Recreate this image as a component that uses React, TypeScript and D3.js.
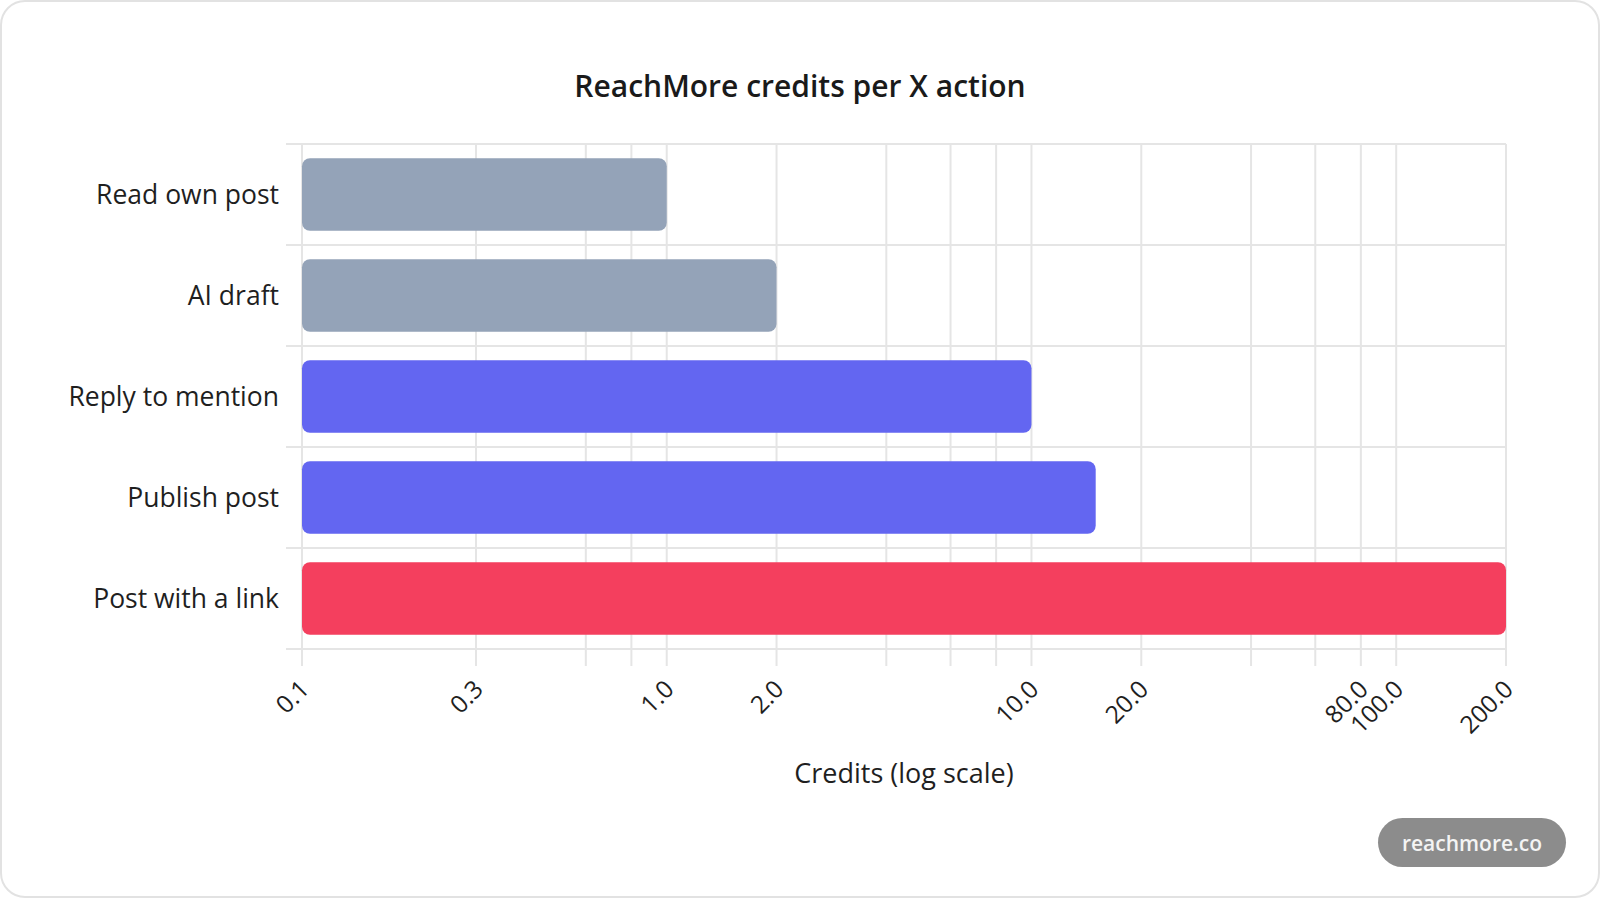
import React, { useEffect, useRef } from "react";
import * as d3 from "d3";

const categories = [
  "Read own post",
  "AI draft",
  "Reply to mention",
  "Publish post",
  "Post with a link",
];
const credits = [1, 2, 10, 15, 200];
const barColors = ["#94a3b8", "#94a3b8", "#6366f1", "#6366f1", "#f43f5e"];
const gridTicks = [0.1, 0.3, 0.6, 0.8, 1, 2, 4, 6, 8, 10, 20, 40, 60, 80, 100, 200];
const labelTicks = [0.1, 0.3, 1, 2, 10, 20, 80, 100, 200];

const W = 1600;
const H = 898;
const FONT = "'Open Sans', 'Noto Sans', sans-serif";

export default function App() {
  const svgRef = useRef<SVGSVGElement>(null);

  useEffect(() => {
    document.body.style.margin = "0";
    if (!svgRef.current) return;
    const svg = d3.select(svgRef.current);
    svg.selectAll("*").remove();

    const left = 302;
    const right = 1506;
    const top = 144;
    const bottom = 649;

    // card
    svg
      .append("rect")
      .attr("x", 1)
      .attr("y", 1)
      .attr("width", W - 2)
      .attr("height", H - 2)
      .attr("rx", 24)
      .attr("fill", "#fff")
      .attr("stroke", "#e2e2e2")
      .attr("stroke-width", 2);

    const x = d3.scaleLog().domain([0.1, 200]).range([left, right]);
    const y = d3
      .scaleBand<string>()
      .domain(categories)
      .range([top, bottom])
      .paddingInner(0)
      .paddingOuter(0);

    const grid = svg.append("g").attr("stroke", "#e5e5e5").attr("stroke-width", 2);

    // vertical grid + ticks
    grid
      .selectAll("line.v")
      .data(gridTicks)
      .enter()
      .append("line")
      .attr("x1", (d) => x(d))
      .attr("x2", (d) => x(d))
      .attr("y1", top)
      .attr("y2", bottom + 17);

    // horizontal grid at band edges
    const edges = categories.map((c) => y(c)!).concat([bottom]);
    grid
      .selectAll("line.h")
      .data(edges)
      .enter()
      .append("line")
      .attr("x1", left - 16)
      .attr("x2", right)
      .attr("y1", (d) => d)
      .attr("y2", (d) => d);

    // bars
    const barH = y.bandwidth() * 0.72;
    svg
      .append("g")
      .selectAll("rect")
      .data(credits)
      .enter()
      .append("rect")
      .attr("x", x(0.1))
      .attr("y", (d, i) => y(categories[i])! + (y.bandwidth() - barH) / 2)
      .attr("width", (d) => x(d) - x(0.1))
      .attr("height", barH)
      .attr("rx", 8)
      .attr("fill", (d, i) => barColors[i]);

    // y labels
    svg
      .append("g")
      .selectAll("text")
      .data(categories)
      .enter()
      .append("text")
      .attr("x", 279)
      .attr("y", (d) => y(d)! + y.bandwidth() / 2)
      .attr("dy", "0.35em")
      .attr("text-anchor", "end")
      .style("font-family", FONT)
      .style("font-size", "26.5px")
      .style("fill", "#1f1f1f")
      .text((d) => d);

    // x tick labels, rotated
    svg
      .append("g")
      .selectAll("text")
      .data(labelTicks)
      .enter()
      .append("text")
      .attr("transform", (d) => `translate(${x(d) + 2},${bottom + 35}) rotate(-45)`)
      .attr("text-anchor", "end")
      .attr("dominant-baseline", "central")
      .style("font-family", FONT)
      .style("font-size", "24.5px")
      .style("fill", "#1f1f1f")
      .text((d) => d.toFixed(1));

    // axis title
    svg
      .append("text")
      .attr("x", (left + right) / 2)
      .attr("y", 783)
      .attr("text-anchor", "middle")
      .style("font-family", FONT)
      .style("font-size", "27px")
      .style("fill", "#1f1f1f")
      .text("Credits (log scale)");

    // title
    svg
      .append("text")
      .attr("x", 800)
      .attr("y", 97)
      .attr("text-anchor", "middle")
      .style("font-family", FONT)
      .style("font-size", "30px")
      .style("font-weight", 600)
      .style("fill", "#1a1a1a")
      .text("ReachMore credits per X action");

    // watermark pill
    const pill = svg.append("g");
    pill
      .append("rect")
      .attr("x", 1378)
      .attr("y", 818)
      .attr("width", 188)
      .attr("height", 49)
      .attr("rx", 24.5)
      .attr("fill", "#8c8c8c");
    pill
      .append("text")
      .attr("x", 1472)
      .attr("y", 851)
      .attr("text-anchor", "middle")
      .style("font-family", FONT)
      .style("font-size", "21px")
      .style("font-weight", 600)
      .style("fill", "#f4f4f4")
      .text("reachmore.co");
  }, []);

  return <svg ref={svgRef} width={W} height={H} style={{ display: "block" }} />;
}
